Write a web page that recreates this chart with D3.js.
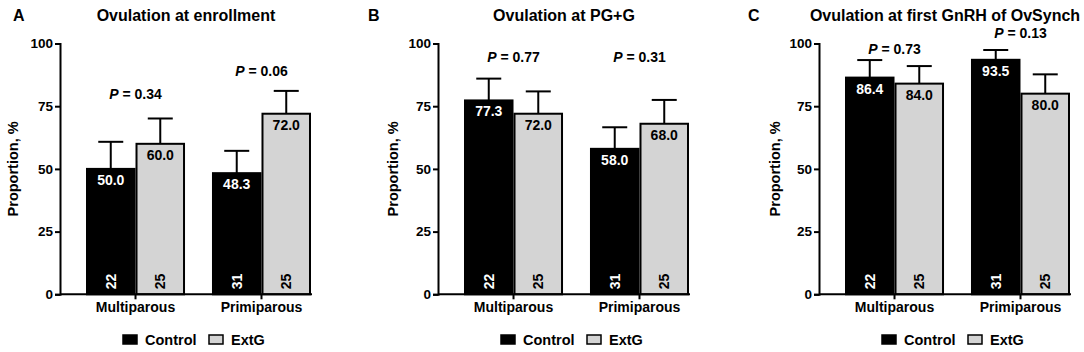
<!DOCTYPE html>
<html>
<head>
<meta charset="utf-8">
<script src="https://cdn.jsdelivr.net/npm/d3@7"></script>
<style>
  body { margin: 0; background: #fff; }
  svg { font-family: "Liberation Sans", Arial, sans-serif; font-weight: bold; }
</style>
</head>
<body>
<svg id="chart" width="1084" height="352"></svg>
<script>
// categories
const groups = ["Multiparous", "Primiparous"];
const treatments = ["Control", "ExtG"];
const yTicks = [0, 25, 50, 75, 100];

// animals per bar (same in every panel)
const counts = [[22, 25], [31, 25]];

// A - ovulation at enrollment
const enrollMeans = [[50.0, 60.0], [48.3, 72.0]];
const enrollErrTop = [[60.8, 70.1], [57.2, 81.1]];
const enrollP = ["0.34", "0.06"];
const enrollPAt = [78, 87];

// B - ovulation at PG+G
const pggMeans = [[77.3, 72.0], [58.0, 68.0]];
const pggErrTop = [[86.0, 80.9], [66.6, 77.5]];
const pggP = ["0.77", "0.31"];
const pggPAt = [92.7, 92.7];

// C - ovulation at first GnRH of OvSynch
const gnrhMeans = [[86.4, 84.0], [93.5, 80.0]];
const gnrhErrTop = [[93.4, 91.0], [97.4, 87.7]];
const gnrhP = ["0.73", "0.13"];
const gnrhPAt = [96, 102];

const panels = [
    { letter: "A", title: "Ovulation at enrollment", means: enrollMeans, err: enrollErrTop, p: enrollP, pAt: enrollPAt, x0: 60, letterX: 13, ylabX: 13 },
    { letter: "B", title: "Ovulation at PG+G", means: pggMeans, err: pggErrTop, p: pggP, pAt: pggPAt, x0: 438, letterX: 368, ylabX: 393 },
    { letter: "C", title: "Ovulation at first GnRH of OvSynch", means: gnrhMeans, err: gnrhErrTop, p: gnrhP, pAt: gnrhPAt, x0: 819, letterX: 748, ylabX: 775 }
];

const fills = { Control: "#000000", ExtG: "#d4d4d4" };
const labelColor = { Control: "#ffffff", ExtG: "#000000" };

const plotW = 252;
const plotTop = 43.5, plotBottom = 294.3;

const svg = d3.select("#chart");

const y = d3.scaleLinear().domain([0, 100]).range([plotBottom, plotTop]);

panels.forEach(panel => {
    const g = svg.append("g");

    const x = d3.scaleBand()
        .domain(groups)
        .range([panel.x0 + 26, panel.x0 + plotW - 1])
        .paddingInner(0.214)
        .paddingOuter(0);
    const xs = d3.scaleBand()
        .domain(treatments)
        .range([0, x.bandwidth()]);

    // panel letter and title
    g.append("text")
        .attr("x", panel.letterX)
        .attr("y", 21)
        .attr("font-size", 16)
        .text(panel.letter);
    g.append("text")
        .attr("x", panel.x0 + plotW / 2)
        .attr("y", 21)
        .attr("text-anchor", "middle")
        .attr("font-size", 16)
        .text(panel.title);

    // y axis label
    g.append("text")
        .attr("transform", `translate(${panel.ylabX + 5},${(plotTop + plotBottom) / 2}) rotate(-90)`)
        .attr("text-anchor", "middle")
        .attr("font-size", 14.5)
        .text("Proportion, %");

    // rows of bar data
    const rows = [];
    groups.forEach((grp, i) => {
        treatments.forEach((trt, j) => {
            rows.push({ grp, trt, mean: panel.means[i][j], errTop: panel.err[i][j], n: counts[i][j] });
        });
    });

    // error bars (upper only)
    const errs = g.selectAll(".err").data(rows).enter().append("g");
    errs.append("line")
        .attr("x1", d => x(d.grp) + xs(d.trt) + xs.bandwidth() / 2)
        .attr("x2", d => x(d.grp) + xs(d.trt) + xs.bandwidth() / 2)
        .attr("y1", d => y(d.mean))
        .attr("y2", d => y(d.errTop))
        .attr("stroke", "#000").attr("stroke-width", 2);
    errs.append("line")
        .attr("x1", d => x(d.grp) + xs(d.trt) + xs.bandwidth() / 2 - 12.5)
        .attr("x2", d => x(d.grp) + xs(d.trt) + xs.bandwidth() / 2 + 12.5)
        .attr("y1", d => y(d.errTop))
        .attr("y2", d => y(d.errTop))
        .attr("stroke", "#000").attr("stroke-width", 2);

    // bars
    g.selectAll(".bar").data(rows).enter().append("rect")
        .attr("x", d => x(d.grp) + xs(d.trt) + 1)
        .attr("y", d => y(d.mean))
        .attr("width", xs.bandwidth() - 2)
        .attr("height", d => y(0) - y(d.mean))
        .attr("fill", d => fills[d.trt])
        .attr("stroke", "#000")
        .attr("stroke-width", 2);

    // value labels inside bars
    g.selectAll(".val").data(rows).enter().append("text")
        .attr("x", d => x(d.grp) + xs(d.trt) + xs.bandwidth() / 2)
        .attr("y", d => y(d.mean) + 16)
        .attr("text-anchor", "middle")
        .attr("font-size", 14)
        .attr("fill", d => labelColor[d.trt])
        .text(d => d.mean.toFixed(1));

    // n per bar, rotated at the base
    g.selectAll(".n").data(rows).enter().append("text")
        .attr("transform", d => `translate(${x(d.grp) + xs(d.trt) + xs.bandwidth() / 2 + 5},${y(0) - 5}) rotate(-90)`)
        .attr("font-size", 14)
        .attr("fill", d => labelColor[d.trt])
        .text(d => d.n);

    // P values
    const pText = g.selectAll(".p").data(groups).enter().append("text")
        .attr("x", d => x(d) + x.bandwidth() / 2)
        .attr("y", (d, i) => y(panel.pAt[i]))
        .attr("text-anchor", "middle")
        .attr("font-size", 14);
    pText.append("tspan").attr("font-style", "italic").text("P");
    pText.append("tspan").text((d, i) => " = " + panel.p[i]);

    // axes
    const yAxis = g.append("g")
        .attr("transform", `translate(${panel.x0},0)`)
        .call(d3.axisLeft(y).tickValues(yTicks).tickSize(5).tickPadding(2));
    const xAxis = g.append("g")
        .attr("transform", `translate(0,${plotBottom})`)
        .call(d3.axisBottom(x).tickSize(5).tickPadding(3));
    xAxis.select(".domain").attr("d", `M${panel.x0},0H${panel.x0 + plotW}`);
    [yAxis, xAxis].forEach(ax => {
        ax.selectAll(".domain, .tick line").attr("stroke", "#000").attr("stroke-width", 2);
        ax.selectAll("text").attr("fill", "#000");
        ax.attr("font-family", null);
    });
    yAxis.attr("font-size", 13.5);
    xAxis.attr("font-size", 14);

    // legend
    const leg = g.append("g").attr("transform", `translate(${panel.x0 + 62},334)`);
    const legX = d3.scaleOrdinal().domain(treatments).range([0, 86]);
    treatments.forEach(t => {
        leg.append("rect")
            .attr("x", legX(t) + 1).attr("y", 1)
            .attr("width", 14).attr("height", 9)
            .attr("fill", fills[t]).attr("stroke", "#000").attr("stroke-width", 1.5);
        leg.append("text")
            .attr("x", legX(t) + 23).attr("y", 10.5)
            .attr("font-size", 14.5)
            .text(t);
    });
});
</script>
</body>
</html>
